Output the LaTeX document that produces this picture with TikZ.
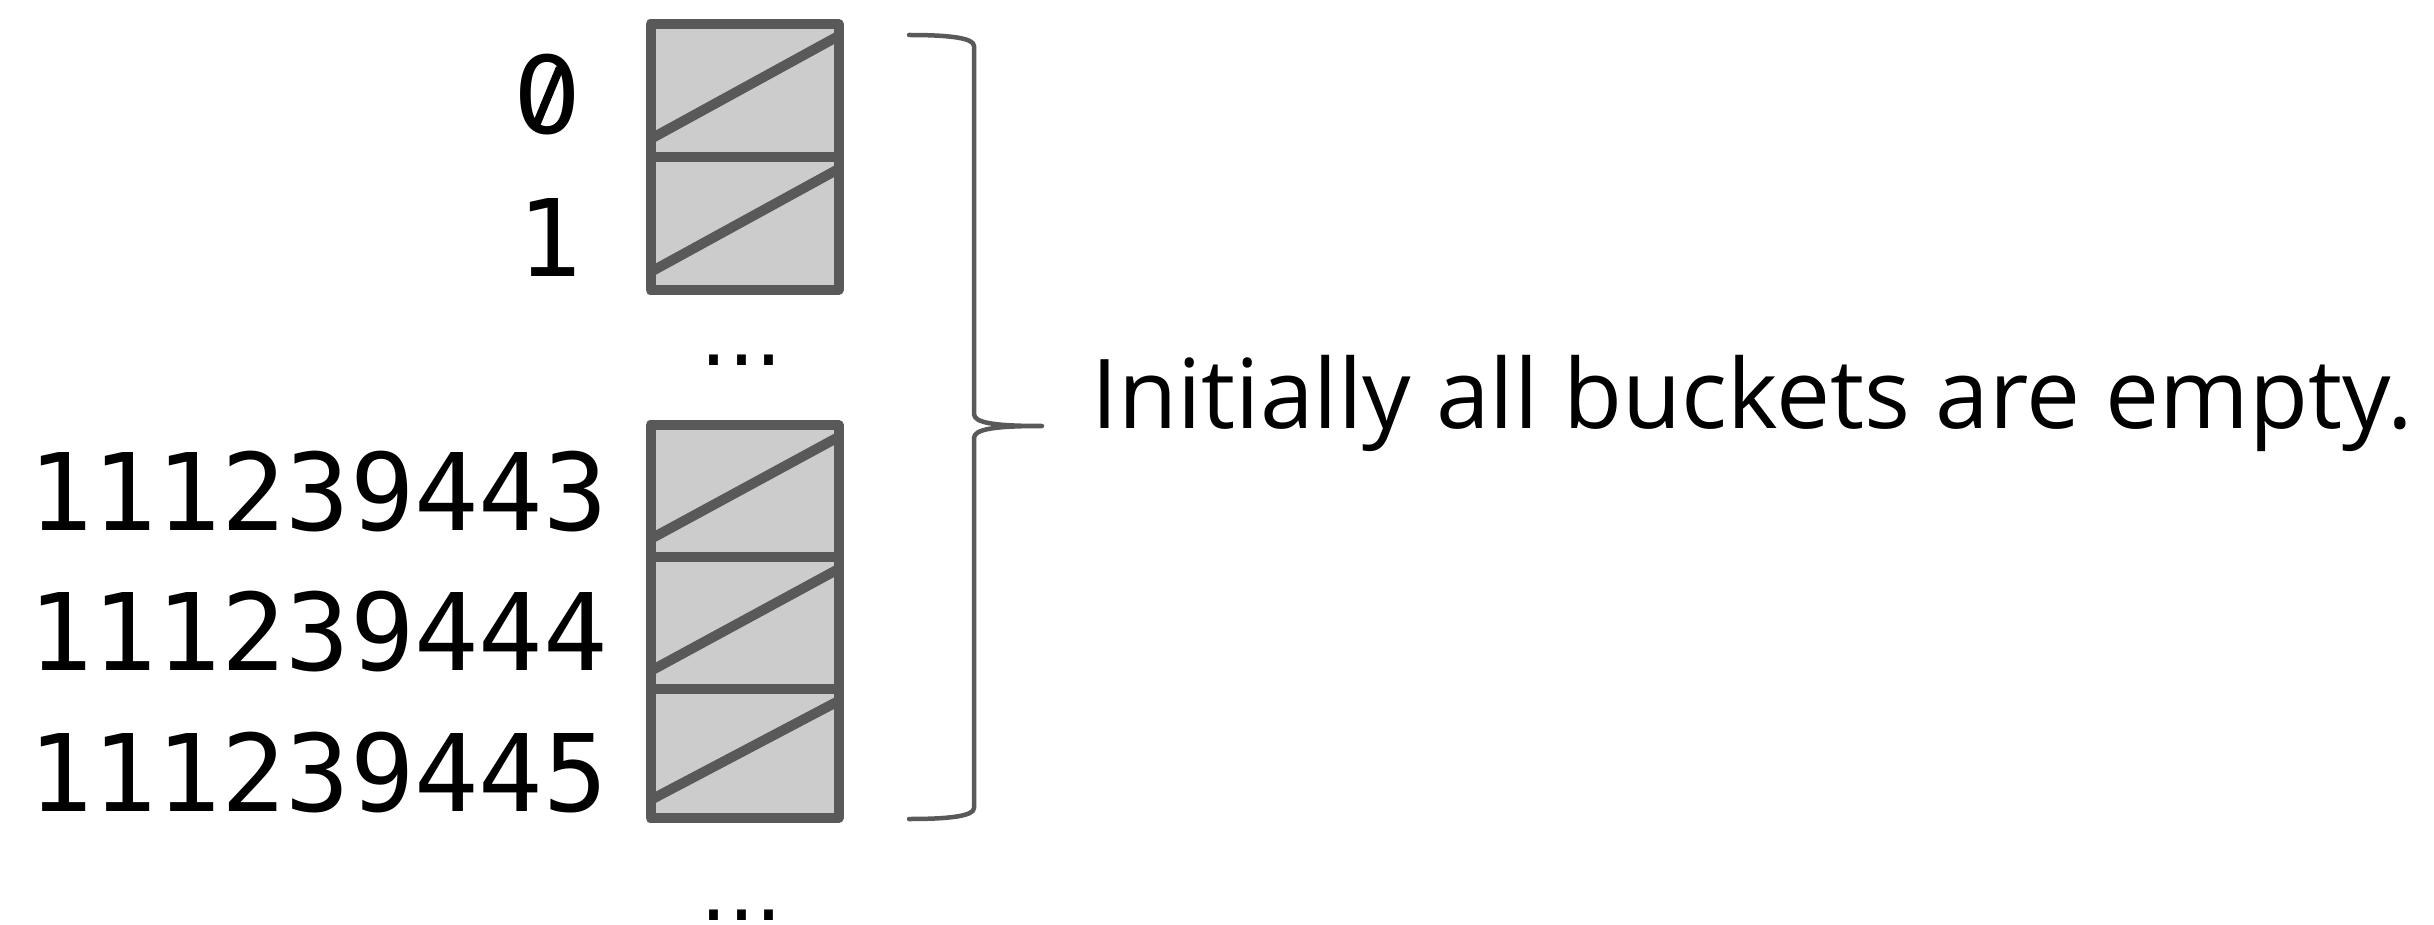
\documentclass[tikz,border=0pt]{standalone}
\usepackage{fontspec}
\newfontfamily\idxfont{DejaVu Sans Mono}
\newfontfamily\zerofont{DejaVu Sans}
\newfontfamily\notefont{Open Sans}
\usetikzlibrary{calc}
\definecolor{edge}{HTML}{595959}
\definecolor{cellfill}{HTML}{CCCCCC}
\begin{document}
\begin{tikzpicture}[x=1pt,y=-1pt,
  bucket/.style={draw=edge, fill=cellfill, line width=10pt, line join=round,
    rectangle, minimum width=188pt, minimum height=133pt, inner sep=0pt, outer sep=0pt},
  slash/.style={draw=edge, line width=10pt},
  idx/.style={font=\idxfont\fontsize{107}{120}\selectfont, inner sep=0pt, anchor=east},
  gap/.style={font=\zerofont\fontsize{85}{100}\selectfont, inner sep=0pt, anchor=base},
  note/.style={font=\notefont\fontsize{96.4}{110}\selectfont, inner sep=0pt, anchor=base west},
  brace/.style={draw=edge, line width=4.5pt, line cap=round, line join=round}]
\useasboundingbox (0,0) rectangle (2434,925);

% upper block of buckets
\node[bucket] (c0) at (744.5,90.5) {};
\node[bucket] (c1) at (744.5,223.5) {};
% lower block of buckets
\node[bucket, minimum height=132pt] (c2) at (744.5,491) {};
\node[bucket, minimum height=132pt] (c3) at (744.5,623) {};
\node[bucket, minimum height=129pt] (c4) at (744.5,753.5) {};

% empty-bucket slashes
\foreach \c in {c0,c1,c2,c3,c4}{
  \draw[slash] ($(\c.south west)+(0,-18)$) -- ($(\c.north east)+(0,12)$);
}

% bucket indices (the zero carries a slash)
\node[idx, font=\zerofont\fontsize{107}{120}\selectfont] (l0) at (582,95) {0};
\draw[line width=8pt] ($(l0.center)+(12,-27)$) -- ($(l0.center)+(-12,31)$);
\node[idx] (l1) at (582,237) {1};
\node[idx] (l2) at (608,492) {111239443};
\node[idx] (l3) at (608,632) {111239444};
\node[idx] (l4) at (608,773) {111239445};

% elided buckets
\node[gap] (g1) at (741.5,365) {...};
\node[gap] (g2) at (741.5,920) {...};

% curly brace over all buckets
\coordinate (btop) at (909,35);
\coordinate (bbot) at (909,819);
\coordinate (btip) at (1042,426);
\draw[brace] (btop) .. controls (950,35) and (974,38) .. (974,46)
  -- (974,414) .. controls (974,423) and (995,426) .. (btip)
  .. controls (995,426) and (974,429) .. (974,438)
  -- (974,808) .. controls (974,816) and (950,819) .. (bbot);

\node[note] (msg) at (1091,428) {Initially all buckets are empty.};
\end{tikzpicture}
\end{document}
